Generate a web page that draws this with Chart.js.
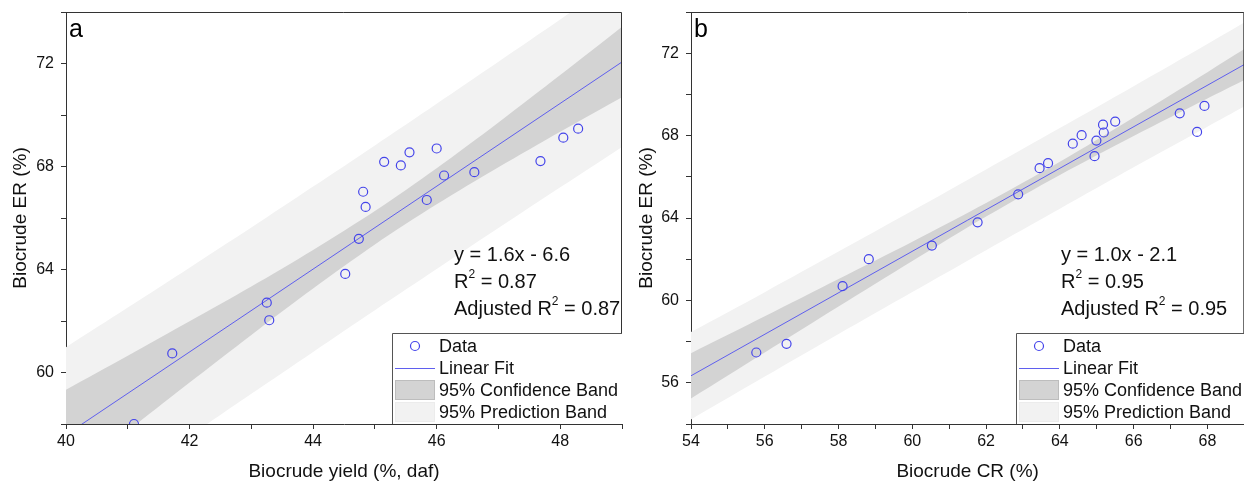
<!DOCTYPE html>
<html>
<head>
<meta charset="utf-8">
<script src="https://cdn.jsdelivr.net/npm/chart.js@4"></script>
<style>
html, body { margin: 0; padding: 0; background: #fff; overflow: hidden; width: 1244px; height: 484px; }
#wa { position: absolute; left: 0; top: 0; }
#wb { position: absolute; left: 630px; top: 0; }
</style>
</head>
<body>
<div id="wa"><canvas id="ca" width="630" height="484"></canvas></div>
<div id="wb"><canvas id="cb" width="620" height="484"></canvas></div>
<script>
// panel a: biocrude yield vs ER
const yieldA = [41.10, 41.72, 43.25, 43.29, 44.52, 44.74, 44.81, 44.85, 45.15, 45.42, 45.56, 45.84, 46.00, 46.12, 46.61, 47.68, 48.05, 48.29];
const erA    = [58.00, 60.74, 62.71, 62.03, 63.83, 65.19, 67.02, 66.43, 68.18, 68.04, 68.55, 66.70, 68.70, 67.65, 67.78, 68.21, 69.12, 69.47];
const fitXA  = [40, 49];
const fitYA  = [57.58, 72.06];
const bandXA = [40, 41, 42, 43, 44, 45, 46, 47, 48, 49];
const confUpA = [59.33, 60.65, 61.99, 63.34, 64.76, 66.27, 67.93, 69.71, 71.55, 73.43];
const confLoA = [55.83, 57.73, 59.61, 61.46, 63.26, 64.97, 66.53, 67.97, 69.35, 70.69];
const predUpA = [60.98, 62.52, 64.07, 65.63, 67.22, 68.82, 70.44, 72.07, 73.71, 75.36];
const predLoA = [54.18, 55.86, 57.53, 59.17, 60.80, 62.42, 64.02, 65.61, 67.19, 68.76];

// panel b: biocrude CR vs ER
const crB = [55.77, 56.59, 58.11, 58.82, 60.53, 61.77, 62.87, 63.45, 63.68, 64.35, 64.59, 64.94, 64.99, 65.17, 65.19, 65.50, 67.25, 67.72, 67.92];
const erB = [57.47, 57.89, 60.69, 62.00, 62.66, 63.79, 65.15, 66.42, 66.66, 67.61, 68.02, 67.00, 67.76, 68.53, 68.15, 68.68, 69.08, 68.18, 69.44];
const fitXB  = [54, 69];
const fitYB  = [56.34, 71.45];
const bandXB = [54, 56, 58, 60, 62, 64, 66, 68, 69];
const confUpB = [57.44, 59.23, 61.04, 62.85, 64.73, 66.73, 68.88, 71.08, 72.20];
const confLoB = [55.24, 57.47, 59.70, 61.91, 64.07, 66.09, 67.98, 69.80, 70.70];
const predUpB = [58.46, 60.40, 62.37, 64.35, 66.36, 68.37, 70.40, 72.45, 73.49];
const predLoB = [54.22, 56.30, 58.37, 60.41, 62.44, 64.45, 66.46, 68.43, 69.41];

const legendLabels = ['Data', 'Linear Fit', '95% Confidence Band', '95% Prediction Band'];

const BLUE = '#4444ea';
const FIT = '#5f5fee';
const CONF = '#d3d3d3';
const PRED = '#f2f2f2';
const AXIS = '#333';
const FONT = '"Liberation Sans", Arial, sans-serif';

Chart.defaults.font.family = FONT;
Chart.defaults.color = '#111';

function pairs(xs, ys) {
    return xs.map((v, i) => ({ x: v, y: ys[i] }));
}

// text with superscript pieces: [[text, isSup], ...]
function drawRich(ctx, x, y, parts, size) {
    let cx = x;
    parts.forEach(([t, sup]) => {
        ctx.font = (sup ? Math.round(size * 0.62) : size) + 'px ' + FONT;
        ctx.fillText(t, cx, sup ? y - size * 0.38 : y);
        cx += ctx.measureText(t).width;
    });
}

const overlay = {
    id: 'overlay',
    afterDraw(chart) {
        const o = chart.options.plugins.overlay;
        const { ctx, chartArea: a } = chart;
        ctx.save();

        // top and right frame lines
        ctx.strokeStyle = AXIS;
        ctx.lineWidth = 1;
        ctx.beginPath();
        ctx.moveTo(a.left, a.top + 0.5);
        ctx.lineTo(a.right - 0.5, a.top + 0.5);
        ctx.lineTo(a.right - 0.5, a.bottom);
        ctx.stroke();

        // panel letter
        ctx.fillStyle = '#000';
        ctx.textBaseline = 'alphabetic';
        ctx.font = '25px ' + FONT;
        ctx.fillText(o.letter, a.left + 3, 37);

        // fit statistics
        ctx.textBaseline = 'middle';
        ctx.fillStyle = '#111';
        drawRich(ctx, o.textX, 255, [[o.eq, false]], 20);
        drawRich(ctx, o.textX, 282, [['R', false], ['2', true], [' = ' + o.r2, false]], 20);
        drawRich(ctx, o.textX, 309, [['Adjusted R', false], ['2', true], [' = ' + o.adj, false]], 20);

        // legend box
        const L = o.legendX, T = 333;
        ctx.fillStyle = '#fff';
        ctx.fillRect(L, T, a.right - L, a.bottom - T);
        ctx.strokeStyle = '#555';
        ctx.beginPath();
        ctx.moveTo(L + 0.5, a.bottom);
        ctx.lineTo(L + 0.5, T + 0.5);
        ctx.lineTo(a.right, T + 0.5);
        ctx.stroke();

        const rows = [346, 368, 390, 412];
        // circle
        ctx.strokeStyle = BLUE;
        ctx.lineWidth = 1.2;
        ctx.beginPath();
        ctx.arc(L + 23, rows[0], 4.5, 0, Math.PI * 2);
        ctx.stroke();
        // line
        ctx.strokeStyle = FIT;
        ctx.lineWidth = 1;
        ctx.beginPath();
        ctx.moveTo(L + 3, rows[1] + 0.5);
        ctx.lineTo(L + 43, rows[1] + 0.5);
        ctx.stroke();
        // band swatches
        ctx.fillStyle = CONF;
        ctx.fillRect(L + 3, rows[2] - 10, 40, 20);
        ctx.strokeStyle = '#bdbdbd';
        ctx.strokeRect(L + 3.5, rows[2] - 9.5, 39, 19);
        ctx.fillStyle = PRED;
        ctx.fillRect(L + 3, rows[3] - 10, 40, 20);
        ctx.strokeStyle = '#ececec';
        ctx.strokeRect(L + 3.5, rows[3] - 9.5, 39, 19);

        ctx.fillStyle = '#111';
        ctx.font = '18px ' + FONT;
        legendLabels.forEach((t, i) => ctx.fillText(t, L + 47, rows[i] + 1));

        ctx.restore();
    }
};

function makePanel(id, p) {
    const lineDs = (data, extra) => Object.assign({
        data,
        showLine: true,
        pointRadius: 0,
        borderWidth: 0,
        borderColor: 'rgba(0,0,0,0)',
        fill: false,
        clip: 0,
        tension: 0.3
    }, extra);

    return new Chart(document.getElementById(id), {
        type: 'line',
        data: {
            datasets: [
                {
                    label: 'Data',
                    data: pairs(p.x, p.y),
                    showLine: false,
                    pointRadius: 4.5,
                    pointBorderWidth: 1.2,
                    pointBorderColor: BLUE,
                    pointBackgroundColor: 'rgba(0,0,0,0)',
                    clip: 0,
                    order: 0
                },
                lineDs(pairs(p.fitX, p.fitY), { label: 'Linear Fit', borderColor: FIT, borderWidth: 1, tension: 0, order: 1 }),
                lineDs(pairs(p.bandX, p.confUp), { fill: '+1', backgroundColor: CONF, order: 2 }),
                lineDs(pairs(p.bandX, p.confLo), { order: 3 }),
                lineDs(pairs(p.bandX, p.predUp), { fill: '+1', backgroundColor: PRED, order: 4 }),
                lineDs(pairs(p.bandX, p.predLo), { order: 5 })
            ]
        },
        options: {
            responsive: false,
            animation: false,
            layout: { padding: { top: 12, right: p.padRight, left: 0, bottom: 0 } },
            plugins: {
                legend: { display: false },
                tooltip: { enabled: false },
                overlay: p.overlay
            },
            scales: {
                x: {
                    type: 'linear',
                    min: p.xMin,
                    max: p.xMax,
                    afterFit: s => { s.height = 60; s.paddingLeft = 0; s.paddingRight = 0; },
                    grid: { drawOnChartArea: false, drawTicks: true, tickLength: 5, color: AXIS },
                    border: { display: true, color: AXIS, width: 1 },
                    ticks: {
                        stepSize: 1,
                        autoSkip: false,
                        maxRotation: 0,
                        padding: 3,
                        color: '#111',
                        font: { size: 16 },
                        callback: v => (v % 2 === 0 ? v : '')
                    },
                    title: { display: true, text: p.xTitle, font: { size: 19 }, color: '#111', padding: { top: 0, bottom: 1 } }
                },
                y: {
                    min: p.yMin,
                    max: p.yMax,
                    afterFit: s => { s.width = p.yWidth; s.paddingTop = 0; s.paddingBottom = 0; },
                    grid: { drawOnChartArea: false, drawTicks: true, tickLength: 5, color: AXIS },
                    border: { display: true, color: AXIS, width: 1 },
                    ticks: {
                        stepSize: 2,
                        autoSkip: false,
                        padding: 7,
                        color: '#111',
                        font: { size: 16 },
                        callback: v => (v % 4 === 0 ? v : '')
                    },
                    title: { display: true, text: 'Biocrude ER (%)', font: { size: 19 }, color: '#111', padding: { top: p.yTitlePad, bottom: 0 } }
                }
            }
        },
        plugins: [overlay]
    });
}

makePanel('ca', {
    x: yieldA, y: erA, fitX: fitXA, fitY: fitYA,
    bandX: bandXA, confUp: confUpA, confLo: confLoA, predUp: predUpA, predLo: predLoA,
    xMin: 40, xMax: 49, yMin: 58, yMax: 74,
    xTitle: 'Biocrude yield (%, daf)',
    yWidth: 66, padRight: 8, yTitlePad: 9,
    overlay: { letter: 'a', eq: 'y = 1.6x - 6.6', r2: '0.87', adj: '0.87', textX: 454, legendX: 392 }
});

makePanel('cb', {
    x: crB, y: erB, fitX: fitXB, fitY: fitYB,
    bandX: bandXB, confUp: confUpB, confLo: confLoB, predUp: predUpB, predLo: predLoB,
    xMin: 54, xMax: 69, yMin: 54, yMax: 74,
    xTitle: 'Biocrude CR (%)',
    yWidth: 61, padRight: 4, yTitlePad: 5,
    overlay: { letter: 'b', eq: 'y = 1.0x - 2.1', r2: '0.95', adj: '0.95', textX: 431, legendX: 386 }
});
</script>
</body>
</html>
